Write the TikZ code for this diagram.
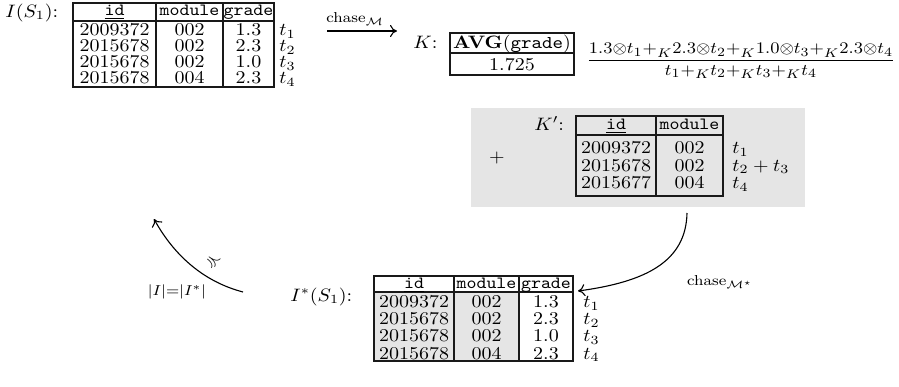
\documentclass[tikz,border=0pt]{standalone}
\usepackage{amsmath,amssymb}
\usetikzlibrary{arrows.meta}
\begin{document}
\begin{tikzpicture}[x=0.5pt,y=-0.5pt,
  sq/.style={yscale=0.9},
  lbl/.style={sq,anchor=base,inner sep=0pt},
  lblw/.style={sq,anchor=base west,inner sep=0pt},
  hdr/.style={lbl,font=\fontsize{9.5}{11}\selectfont},
  small/.style={sq,inner sep=0pt,font=\footnotesize},
  tline/.style={line width=0.7pt,draw=black!90},
  conn/.style={-{Computer Modern Rightarrow[length=3.5pt,width=6pt]},line width=0.55pt},
  shade/.style={fill=black!10}]
\useasboundingbox (0,0) rectangle (899,386);

% ---------- I(S1) table ----------
\node[lblw] (iname) at (5,17) {$I(S_1)$:};
\draw[tline] (73,3) rectangle (274,87);
\draw[tline] (73,21) -- (274,21);
\draw[tline] (156,3) -- (156,87);
\draw[tline] (223,3) -- (223,87);
\node[hdr] (ih1) at (114.5,15.5) {\underline{\texttt{id}}};
\node[hdr] (ih2) at (189.5,15.5) {\texttt{module}};
\node[hdr] (ih3) at (248.5,15.5) {\texttt{grade}};
\foreach \i/\id/\m/\g/\b in {1/2009372/002/1.3/35.3,2/2015678/002/2.3/51.5,3/2015678/002/1.0/67.7,4/2015678/004/2.3/83.9}{
  \node[lbl] (ia\i) at (114.5,\b) {\id};
  \node[lbl] (ib\i) at (189.5,\b) {\m};
  \node[lbl] (ic\i) at (248.5,\b) {\g};
  \node[lblw] (it\i) at (279,\b) {$t_{\i}$};
}

% ---------- chase arrow ----------
\coordinate (cA) at (327,31);
\coordinate (cB) at (397,31);
\draw[conn] (cA) -- (cB);
\node[small] (chaseM) at (355,19) {$\text{chase}_{\mathcal{M}}$};

% ---------- K ----------
\node[lblw] (kname) at (413,48) {$K$:};
\draw[tline] (450,33) rectangle (574,75);
\draw[tline] (450,53) -- (574,53);
\node[lbl] (kh) at (512,48.5) {$\mathbf{AVG}(\texttt{grade})$};
\node[lbl] (kv) at (512,70) {1.725};
\node[sq,inner sep=0pt,font=\fontsize{9.3}{11}\selectfont] (frac) at (741,61)
  {$\dfrac{1.3{\otimes}t_1{+}_K2.3{\otimes}t_2{+}_K1.0{\otimes}t_3{+}_K2.3{\otimes}t_4}{t_1{+}_Kt_2{+}_Kt_3{+}_Kt_4}$};

% ---------- K' ----------
\fill[shade] (471,108) rectangle (805,207);
\node[sq,inner sep=0pt] (plus) at (497,158) {$+$};
\node[lblw] (kpname) at (534,130) {$K'$:};
\draw[tline] (576,116) rectangle (723,196);
\draw[tline] (576,135) -- (723,135);
\draw[tline] (656,116) -- (656,196);
\node[hdr] (kph1) at (616,129.5) {\underline{\texttt{id}}};
\node[hdr] (kph2) at (689.5,129.5) {\texttt{module}};
\foreach \i/\id/\m/\b/\t in {1/2009372/002/153.5/t_1,2/2015678/002/171/t_2+t_3,3/2015677/004/188.5/t_4}{
  \node[lbl] (kpa\i) at (616,\b) {\id};
  \node[lbl] (kpb\i) at (689.5,\b) {\m};
  \node[lblw] (kpt\i) at (732,\b) {$\t$};
}

% ---------- down arrow ----------
\coordinate (dA) at (687,213);
\coordinate (dB) at (578,291);
\draw[conn] (dA) .. controls (686,262) and (645,282) .. (dB);
\node[small] (chaseMs) at (720,282) {$\text{chase}_{\mathcal{M}^\star}$};

% ---------- I*(S1) table ----------
\node[lblw] (isname) at (290,301) {$I^*(S_1)$:};
\fill[shade] (374,292) rectangle (519,361);
\draw[tline] (374,276) rectangle (573,361);
\draw[tline] (374,292) -- (573,292);
\draw[tline] (454,276) -- (454,361);
\draw[tline] (519,276) -- (519,361);
\node[hdr] (sh1) at (414,288.5) {\underline{\texttt{id}}};
\node[hdr] (sh2) at (486.5,288.5) {\texttt{module}};
\node[hdr] (sh3) at (546,288.5) {\texttt{grade}};
\foreach \i/\id/\m/\g/\b in {1/2009372/002/1.3/307.5,2/2015678/002/2.3/324.7,3/2015678/002/1.0/341.9,4/2015678/004/2.3/359}{
  \node[lbl] (sa\i) at (414,\b) {\id};
  \node[lbl] (sb\i) at (486.5,\b) {\m};
  \node[lbl] (sc\i) at (546,\b) {\g};
  \node[lblw] (st\i) at (583,\b) {$t_{\i}$};
}

% ---------- left arrow ----------
\coordinate (lA) at (243,292);
\coordinate (lB) at (154,219);
\draw[conn] (lA) .. controls (205,282) and (175,257) .. (lB);
\node[inner sep=0pt,rotate=-35,font=\small] (prec) at (213,261) {$\preccurlyeq$};
\node[small] (card) at (177,292) {$|I|{=}|I^*|$};
\end{tikzpicture}
\end{document}
